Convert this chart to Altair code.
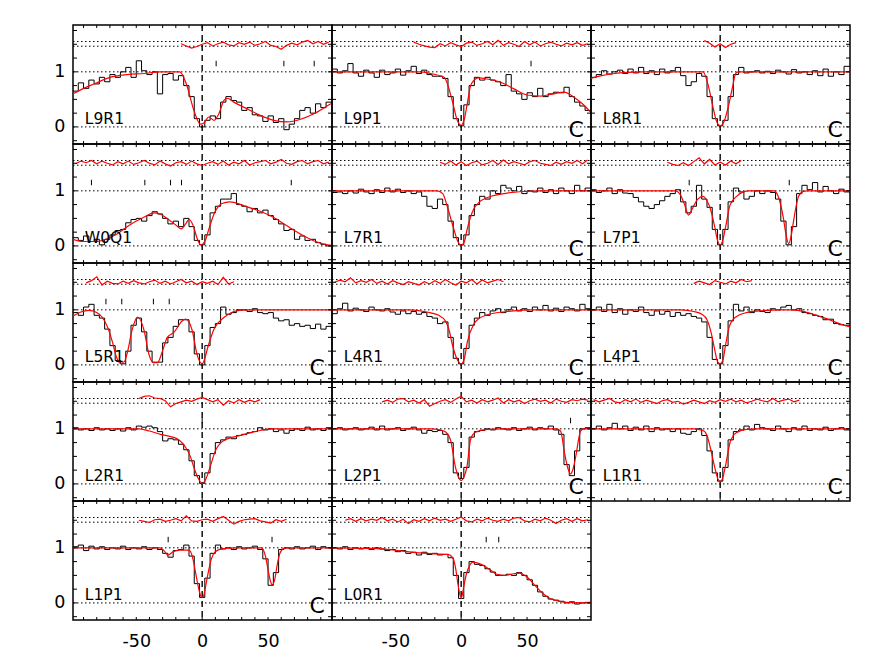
import altair as alt
import pandas as pd

# ---------------- data ----------------
BIN_CENTRES = list(range(-96, 97, 4))      # km/s, 49 spectral bins
BIN_WIDTH = 4
X_DOMAIN = [-98, 98.5]
Y_DOMAIN = [-0.31, 1.85]
REF_LEVELS = [0, 1, 1.465, 1.55]
X_FRAME_TICKS = list(range(-90, 91, 10))
Y_FRAME_TICKS = [-0.25, 0, 0.25, 0.5, 0.75, 1, 1.25, 1.5, 1.75]
X_LABELS = [-50, 0, 50]
Y_LABELS = [0, 1]
ID_TICK_LOW, ID_TICK_HIGH = 1.10, 1.20

# --- L9R1
L9R1_flux = [0.65, 0.80, 0.70, 0.85, 0.78, 0.90, 0.82,
             0.95, 0.90, 1.00, 1.08, 0.90, 1.20, 1.02,
             0.95, 1.00, 0.60, 0.95, 0.97, 0.85, 0.93,
             0.75, 0.55, 0.15, 0.00, 0.12, 0.20, 0.15,
             0.45, 0.55, 0.48, 0.45, 0.30, 0.35, 0.22,
             0.20, 0.10, 0.20, 0.08, 0.15, -0.05, 0.05,
             0.15, 0.30, 0.35, 0.25, 0.42, 0.35, 0.45]
L9R1_mv = [-98, -90, -82, -70, -57, -44, -32, -17, -12, -6.3, -1.3, 1.3, 5, 8.9, 12.7, 16.5, 19, 24, 34, 44, 54.4, 64.5, 74.7, 84.8, 97, 98.5]
L9R1_mf = [0.60, 0.70, 0.78, 0.90, 0.95, 0.97, 1.00, 1.00, 0.78, 0.30, 0.05, 0.07, 0.18, 0.12, 0.24, 0.48, 0.52, 0.45, 0.33, 0.21, 0.12, 0.09, 0.14, 0.24, 0.41, 0.43]
L9R1_res_start = -16
L9R1_res = [1.51, 1.47, 1.43, 1.46, 1.50, 1.53, 1.47, 1.51, 1.54, 1.49, 1.47, 1.53, 1.50, 1.54, 1.48,
            1.51, 1.55, 1.48, 1.46, 1.41, 1.48, 1.52, 1.49, 1.54, 1.57, 1.51, 1.55, 1.50, 1.54]
L9R1_ticks = [10.6, 62, 85]

# --- L9P1
L9P1_flux = [1.05, 0.98, 1.02, 1.15, 0.98, 0.92, 1.03,
             0.98, 0.90, 1.03, 0.95, 0.98, 1.05, 0.94,
             1.02, 1.10, 0.97, 1.03, 0.95, 0.92, 0.92,
             0.88, 0.55, 0.15, 0.02, 0.40, 0.75, 0.90,
             0.85, 0.90, 0.85, 0.82, 0.75, 0.95, 0.65,
             0.60, 0.50, 0.62, 0.55, 0.70, 0.55, 0.60,
             0.63, 0.62, 0.72, 0.55, 0.45, 0.38, 0.30]
L9P1_mv = [-98, -30, -25.8, -13, -6.8, -3, 0, 2.5, 4.6, 7.6, 13.4, 19.7, 30, 40, 50, 60, 70, 78, 85.6, 92, 98.5]
L9P1_mf = [1.00, 1.00, 0.98, 0.90, 0.48, 0.12, 0.03, 0.15, 0.42, 0.78, 0.89, 0.87, 0.81, 0.69, 0.58, 0.56, 0.60, 0.63, 0.54, 0.42, 0.26]
L9P1_res_start = -36
L9P1_res = [1.54, 1.50, 1.47, 1.45, 1.44, 1.51, 1.47, 1.53, 1.49, 1.46, 1.52, 1.54, 1.48, 1.51, 1.55, 1.49, 1.57,
            1.48, 1.53, 1.50, 1.46, 1.55, 1.49, 1.54, 1.47, 1.51, 1.54, 1.50, 1.47, 1.52, 1.49, 1.53, 1.48, 1.51]
L9P1_ticks = [53]

# --- L8R1
L8R1_flux = [0.90, 0.95, 1.02, 0.96, 1.00, 1.03, 0.97,
             1.05, 0.98, 1.08, 0.97, 1.02, 0.95, 1.05,
             0.98, 1.02, 1.08, 0.93, 0.75, 0.82, 0.97,
             0.92, 0.55, 0.15, 0.02, 0.12, 0.55, 0.95,
             1.08, 0.98, 1.00, 1.02, 0.98, 1.01, 0.97,
             1.03, 1.00, 0.96, 1.04, 0.98, 1.00, 0.95,
             1.02, 0.93, 1.05, 0.92, 1.00, 0.95, 1.10]
L8R1_mv = [-98, -90, -80, -70, -60, -13, -9, -6, -3, 0, 3, 6, 9, 12, 14, 98.5]
L8R1_mf = [0.88, 0.93, 0.97, 0.99, 1.00, 1.00, 0.75, 0.42, 0.12, 0.02, 0.10, 0.35, 0.68, 0.98, 1.00, 1.00]
L8R1_res_start = -12
L8R1_res = [1.57, 1.52, 1.45, 1.51, 1.44, 1.50, 1.53]
L8R1_ticks = []

# --- W0Q1
W0Q1_flux = [0.15, 0.10, 0.18, 0.08, 0.12, 0.02, 0.12,
             0.20, 0.28, 0.30, 0.42, 0.48, 0.50, 0.45,
             0.55, 0.62, 0.58, 0.50, 0.40, 0.45, 0.35,
             0.50, 0.35, 0.10, 0.02, 0.20, 0.60, 0.72,
             0.85, 0.85, 0.95, 0.75, 0.72, 0.62, 0.68,
             0.60, 0.65, 0.55, 0.48, 0.40, 0.28, 0.30,
             0.12, 0.18, 0.10, 0.12, 0.06, 0.03, 0.00]
W0Q1_mv = [-98, -90, -80, -72, -65, -55, -45, -36, -32, -28, -20, -16, -12, -10, -7, -4, -1, 2, 5, 9,
           15, 21, 34, 44, 54, 64, 75, 85, 95, 98.5]
W0Q1_mf = [0.12, 0.08, 0.08, 0.13, 0.21, 0.38, 0.51, 0.60, 0.58, 0.52, 0.38, 0.31, 0.42, 0.48, 0.38, 0.15, 0.02, 0.08, 0.30, 0.58,
           0.77, 0.80, 0.71, 0.63, 0.52, 0.37, 0.21, 0.09, 0.02, 0.01]
W0Q1_res_start = -96
W0Q1_res = [1.49, 1.54, 1.51, 1.55, 1.49, 1.54, 1.50,
            1.47, 1.53, 1.49, 1.54, 1.48, 1.51, 1.55,
            1.50, 1.47, 1.54, 1.49, 1.45, 1.51, 1.53,
            1.48, 1.54, 1.49, 1.46, 1.50, 1.53, 1.48,
            1.54, 1.47, 1.52, 1.49, 1.55, 1.47, 1.51,
            1.53, 1.55, 1.49, 1.52, 1.57, 1.50, 1.48,
            1.53, 1.55, 1.49, 1.53, 1.55, 1.49, 1.52]
W0Q1_ticks = [-84, -43.5, -24, -15.7, 67.6]

# --- L7R1
L7R1_flux = [0.97, 0.98, 0.95, 1.00, 0.96, 1.03, 0.98,
             0.95, 1.02, 0.97, 1.05, 0.98, 1.03, 0.97,
             1.00, 0.95, 0.98, 0.90, 0.72, 0.68, 0.85,
             0.75, 0.45, 0.15, 0.02, 0.20, 0.55, 0.75,
             0.90, 0.85, 1.00, 0.95, 1.10, 1.05, 1.00,
             1.08, 0.95, 1.00, 0.98, 1.05, 0.97, 1.02,
             0.95, 1.05, 1.00, 0.95, 1.10, 1.00, 1.05]
L7R1_mv = [-98, -18, -14, -10, -5.5, -2.5, 0, 2.5, 4.5, 9.5, 13.5, 20, 28, 35, 50, 60, 98.5]
L7R1_mf = [1.00, 1.00, 0.95, 0.67, 0.30, 0.08, 0.01, 0.08, 0.30, 0.67, 0.79, 0.88, 0.93, 0.96, 0.99, 1.00, 1.00]
L7R1_res_start = -16
L7R1_res = [1.52, 1.48, 1.54, 1.47, 1.53, 1.46, 1.51, 1.54, 1.47, 1.50, 1.55, 1.48, 1.56, 1.49, 1.53,
            1.50, 1.47, 1.53, 1.55, 1.50, 1.48, 1.46, 1.52, 1.48, 1.53, 1.50, 1.55, 1.49, 1.56]
L7R1_ticks = []

# --- L7P1
L7P1_flux = [1.02, 0.97, 1.00, 1.05, 0.95, 1.02, 0.96,
             0.95, 0.88, 0.80, 0.72, 0.68, 0.75, 0.82,
             0.90, 0.95, 1.02, 0.80, 0.60, 0.72, 1.10,
             0.85, 0.70, 0.30, 0.02, 0.30, 0.80, 1.05,
             0.98, 0.85, 0.90, 1.00, 0.95, 1.00, 0.97,
             0.85, 0.45, 0.02, 0.35, 0.95, 1.10, 1.02,
             1.15, 0.98, 1.08, 1.00, 0.95, 1.03, 0.98]
L7P1_mv = [-98, -34, -30, -27, -24, -21, -17, -13, -10, -7.5, -4, -2, 0, 2, 4, 7.5, 12.5, 17.5, 22, 41,
           44, 48, 50, 52, 54, 56, 59.5, 63, 66, 98.5]
L7P1_mf = [1.00, 1.00, 0.92, 0.75, 0.56, 0.68, 0.85, 0.90, 0.82, 0.68, 0.33, 0.10, 0.02, 0.10, 0.33, 0.74, 0.90, 0.98, 1.00, 1.00,
           0.90, 0.50, 0.20, 0.04, 0.20, 0.50, 0.90, 0.99, 1.00, 1.00]
L7P1_res_start = -40
L7P1_res = [1.52, 1.48, 1.46, 1.51, 1.46, 1.53, 1.60, 1.49, 1.57, 1.47, 1.52, 1.47, 1.54, 1.49, 1.55]
L7P1_ticks = [-23.5, 52.4]

# --- L5R1
L5R1_flux = [0.95, 0.90, 1.05, 1.10, 0.90, 0.85, 0.65,
             0.35, 0.08, 0.02, 0.25, 0.72, 0.85, 0.60,
             0.25, 0.05, 0.05, 0.40, 0.50, 0.70, 0.82,
             0.82, 0.60, 0.20, 0.00, 0.35, 0.68, 0.75,
             1.05, 0.92, 0.95, 1.00, 1.00, 0.97, 1.02,
             0.95, 0.93, 0.95, 0.85, 0.80, 0.82, 0.72,
             0.75, 0.70, 0.72, 0.66, 0.74, 0.65, 0.70]
L5R1_mv = [-98, -92, -86, -80, -76, -72, -68, -65, -62, -59, -57, -53, -49, -44, -40.5, -37, -34, -30, -26.5, -21.5,
           -15, -12.5, -7.5, -4, 0, 5, 9, 16.5, 24, 32, 98.5]
L5R1_mf = [0.89, 0.96, 0.99, 0.95, 0.87, 0.70, 0.41, 0.14, 0.03, 0.06, 0.20, 0.65, 0.87, 0.62, 0.20, 0.04, 0.04, 0.26, 0.50, 0.59,
           0.80, 0.83, 0.62, 0.20, 0.02, 0.38, 0.65, 0.86, 0.97, 1.00, 1.00]
L5R1_res_start = -88
L5R1_res = [1.49, 1.53, 1.60, 1.45, 1.52, 1.48, 1.47, 1.52, 1.48, 1.53, 1.49, 1.47, 1.51, 1.54, 1.48,
            1.52, 1.47, 1.51, 1.55, 1.49, 1.52, 1.46, 1.51, 1.48, 1.52, 1.46, 1.59, 1.47, 1.51]
L5R1_ticks = [-73, -61, -37, -25]

# --- L4R1
L4R1_flux = [0.93, 1.02, 1.12, 0.98, 1.03, 1.00, 0.97,
             1.05, 1.00, 0.98, 1.02, 0.96, 0.92, 0.98,
             0.93, 0.97, 0.92, 0.95, 0.88, 0.85, 0.75,
             0.78, 0.50, 0.12, 0.02, 0.30, 0.72, 0.85,
             0.95, 0.90, 0.98, 1.02, 0.95, 1.00, 1.05,
             0.98, 1.02, 0.97, 1.05, 1.00, 1.08, 0.98,
             1.03, 0.97, 1.05, 1.02, 0.98, 1.10, 1.02]
L4R1_mv = [-98, -40, -26, -17, -12, -9, -6.8, -3, 0, 2.5, 4.6, 9.6, 13.4, 19.7, 35, 50, 98.5]
L4R1_mf = [1.00, 1.00, 0.96, 0.90, 0.80, 0.62, 0.38, 0.10, 0.02, 0.12, 0.41, 0.74, 0.84, 0.91, 0.97, 1.00, 1.00]
L4R1_res_start = -96
L4R1_res = [1.50, 1.54, 1.51, 1.58, 1.49, 1.53, 1.50, 1.55, 1.48, 1.52, 1.47, 1.53, 1.49, 1.46, 1.51, 1.48, 1.45,
            1.51, 1.47, 1.53, 1.48, 1.55, 1.49, 1.45, 1.52, 1.49, 1.55, 1.47, 1.54, 1.49, 1.52, 1.55, 1.51]
L4R1_ticks = []

# --- L4P1
L4P1_flux = [1.00, 1.05, 0.97, 1.10, 0.95, 1.02, 0.92,
             1.00, 0.97, 1.05, 0.95, 0.90, 0.98, 0.92,
             0.97, 0.88, 0.95, 0.90, 0.93, 0.88, 0.85,
             0.78, 0.50, 0.10, 0.02, 0.35, 0.80, 1.10,
             0.98, 1.05, 0.95, 1.00, 0.97, 0.95, 1.02,
             1.00, 1.05, 1.08, 1.00, 1.02, 0.95, 0.93,
             0.90, 0.88, 0.82, 0.83, 0.75, 0.73, 0.72]
L4P1_mv = [-98, -30, -20, -14, -10, -7, -4, -2, 0, 2, 4, 7, 10, 14, 20, 30, 45, 55, 65, 72, 78, 85, 93.7, 98.5]
L4P1_mf = [1.00, 1.00, 0.97, 0.92, 0.82, 0.60, 0.26, 0.06, 0.02, 0.08, 0.35, 0.70, 0.83, 0.90, 0.95, 0.98, 1.00, 1.00, 0.96, 0.91,
           0.86, 0.80, 0.72, 0.69]
L4P1_res_start = -20
L4P1_res = [1.48, 1.52, 1.49, 1.46, 1.53, 1.50, 1.47, 1.52, 1.49, 1.55, 1.51, 1.53]
L4P1_ticks = []

# --- L2R1
L2R1_flux = [1.02, 0.98, 1.00, 0.97, 1.02, 0.98, 1.00,
             0.97, 1.00, 0.96, 1.02, 0.98, 1.05, 1.03,
             1.05, 1.02, 0.95, 0.78, 0.82, 0.80, 0.72,
             0.62, 0.42, 0.15, 0.01, 0.20, 0.55, 0.75,
             0.80, 0.85, 0.82, 0.88, 0.90, 0.93, 0.95,
             1.02, 0.98, 1.00, 0.95, 0.98, 0.92, 0.97,
             1.00, 0.97, 1.03, 0.98, 1.00, 0.97, 1.02]
L2R1_mv = [-98, -48, -40, -31.6, -19, -12.7, -9, -6.3, -3, 0, 3, 6.3, 10, 16.5, 29, 44, 52, 98.5]
L2R1_mf = [1.00, 1.00, 0.96, 0.90, 0.82, 0.67, 0.50, 0.30, 0.10, 0.01, 0.10, 0.33, 0.60, 0.79, 0.88, 0.97, 1.00, 1.00]
L2R1_res_start = -48
L2R1_res = [1.55, 1.59, 1.60, 1.56, 1.55, 1.51, 1.40, 1.46, 1.49, 1.52, 1.50, 1.54,
            1.57, 1.53, 1.49, 1.53, 1.43, 1.51, 1.47, 1.53, 1.48, 1.52, 1.49, 1.53]
L2R1_ticks = [0]

# --- L2P1
L2P1_flux = [1.00, 1.02, 0.98, 1.00, 1.02, 0.98, 1.00,
             1.03, 0.98, 1.05, 0.98, 1.00, 1.02, 0.97,
             1.00, 1.03, 0.98, 0.92, 0.97, 0.95, 0.97,
             0.90, 0.75, 0.20, 0.10, 0.30, 0.85, 0.95,
             0.97, 1.00, 0.98, 1.02, 1.00, 0.98, 1.02,
             0.97, 1.00, 1.03, 0.98, 1.02, 1.00, 1.05,
             0.98, 0.90, 0.35, 0.15, 0.60, 1.00, 1.02]
L2P1_mv = [-98, -22, -14, -10, -8, -4.3, -2, 0, 2, 4.3, 7, 9, 12, 20, 30, 72, 75.4, 78.5, 81, 83, 85, 86.8, 90.6, 93, 98.5]
L2P1_mf = [1.00, 1.00, 0.97, 0.90, 0.79, 0.30, 0.12, 0.06, 0.12, 0.30, 0.79, 0.90, 0.95, 0.99, 1.00, 1.00, 0.96, 0.55, 0.28, 0.18,
           0.28, 0.48, 0.96, 1.00, 1.00]
L2P1_res_start = -60
L2P1_res = [1.49, 1.52, 1.48, 1.54, 1.55, 1.49, 1.52, 1.47, 1.53, 1.41, 1.46, 1.50, 1.53, 1.48, 1.54, 1.59, 1.49, 1.52, 1.47, 1.53,
            1.49, 1.52, 1.56, 1.47, 1.53, 1.49, 1.52, 1.46, 1.51, 1.54, 1.50, 1.52, 1.47, 1.54, 1.50, 1.48, 1.53, 1.51, 1.54, 1.52]
L2P1_ticks = [83]

# --- L1R1
L1R1_flux = [1.00, 1.05, 0.98, 1.02, 1.10, 1.00, 1.05,
             0.97, 1.03, 0.98, 1.05, 0.95, 1.02, 0.98,
             1.00, 0.95, 1.00, 0.92, 0.90, 0.95, 1.00,
             0.88, 0.60, 0.20, 0.05, 0.30, 0.80, 0.95,
             0.98, 1.05, 0.98, 1.08, 1.02, 1.00, 0.97,
             1.05, 1.00, 0.95, 1.02, 0.98, 1.05, 0.97,
             1.00, 0.98, 1.03, 0.97, 1.00, 1.02, 0.98]
L1R1_mv = [-98, -20, -13, -10, -7.6, -3.8, -1.5, 0, 1.5, 3.8, 7.6, 10, 13, 20, 28, 98.5]
L1R1_mf = [1.00, 1.00, 0.97, 0.88, 0.67, 0.27, 0.08, 0.05, 0.08, 0.30, 0.76, 0.88, 0.94, 0.99, 1.00, 1.00]
L1R1_res_start = -96
L1R1_res = [1.53, 1.49, 1.52, 1.55, 1.49, 1.47, 1.53, 1.49, 1.54, 1.48, 1.52, 1.49, 1.46, 1.51, 1.53, 1.48, 1.50, 1.45, 1.48, 1.52,
            1.49, 1.46, 1.51, 1.48, 1.53, 1.50, 1.54, 1.49, 1.52, 1.47, 1.50, 1.54, 1.51, 1.49, 1.55, 1.49, 1.52, 1.54, 1.49, 1.52]
L1R1_ticks = []

# --- L1P1
L1P1_flux = [1.02, 1.05, 0.95, 1.03, 0.98, 1.02, 0.97,
             1.00, 0.98, 1.03, 0.97, 1.00, 0.98, 1.02,
             0.97, 1.00, 0.97, 0.90, 0.83, 0.95, 0.97,
             1.05, 0.85, 0.35, 0.10, 0.45, 0.90, 1.05,
             0.98, 1.00, 0.97, 1.02, 0.98, 1.00, 1.03,
             0.97, 0.80, 0.32, 0.55, 0.97, 1.00, 0.98,
             1.02, 0.98, 1.00, 1.03, 0.97, 1.02, 1.00]
L1P1_mv = [-98, -32, -29, -26, -22, -18, -10, -7, -5, -3, -1, 0, 1, 3, 5, 7, 10, 15, 25, 45,
           48, 50, 52, 53, 55, 57, 59, 62, 65, 98.5]
L1P1_mf = [1.00, 1.00, 0.95, 0.87, 0.93, 0.96, 0.96, 0.80, 0.55, 0.30, 0.12, 0.10, 0.12, 0.35, 0.60, 0.80, 0.93, 0.98, 1.00, 1.00,
           0.85, 0.60, 0.38, 0.33, 0.42, 0.70, 0.90, 0.99, 1.00, 1.00]
L1P1_res_start = -48
L1P1_res = [1.50, 1.48, 1.46, 1.51, 1.52, 1.48, 1.50, 1.53, 1.49, 1.58, 1.49, 1.48, 1.51, 1.52, 1.48,
            1.53, 1.57, 1.50, 1.43, 1.48, 1.51, 1.52, 1.53, 1.49, 1.47, 1.45, 1.51, 1.48, 1.52]
L1P1_ticks = [-25.8, 53]

# --- L0R1
L0R1_flux = [1.00, 0.98, 1.02, 0.97, 1.00, 0.98, 1.00,
             0.97, 1.00, 0.98, 0.95, 0.97, 0.93, 0.95,
             0.90, 0.92, 0.87, 0.92, 0.88, 0.90, 0.87,
             0.88, 0.82, 0.50, 0.08, 0.55, 0.75, 0.70,
             0.68, 0.62, 0.56, 0.50, 0.50, 0.52, 0.50,
             0.55, 0.50, 0.42, 0.32, 0.20, 0.12, 0.07,
             0.05, 0.03, 0.00, 0.02, -0.02, 0.00, 0.01]
L0R1_mv = [-98, -70, -60, -48, -32, -20, -10, -6, -4, -2.5, 0, 2, 4, 6, 9, 16, 22, 27, 33, 40,
           44, 50, 57, 62, 66, 71, 80, 98.5]
L0R1_mf = [1.00, 0.99, 0.98, 0.95, 0.91, 0.89, 0.88, 0.80, 0.60, 0.35, 0.08, 0.30, 0.53, 0.66, 0.74, 0.69, 0.60, 0.52, 0.50, 0.53,
           0.54, 0.47, 0.29, 0.17, 0.10, 0.05, 0.01, 0.00]
L0R1_res_start = -88
L0R1_res = [1.50, 1.53, 1.48, 1.53, 1.49, 1.52, 1.50, 1.55, 1.49, 1.52, 1.47, 1.52, 1.44, 1.51, 1.48, 1.53,
            1.49, 1.54, 1.50, 1.52, 1.48, 1.52, 1.56, 1.49, 1.47, 1.52, 1.49, 1.54, 1.50, 1.48, 1.52, 1.49,
            1.54, 1.55, 1.49, 1.47, 1.52, 1.49, 1.54, 1.50, 1.44, 1.50, 1.53, 1.48, 1.53, 1.49, 1.51]
L0R1_ticks = [19, 28.5]

PANEL_NAMES = ["L9R1", "L9P1", "L8R1",
               "W0Q1", "L7R1", "L7P1",
               "L5R1", "L4R1", "L4P1",
               "L2R1", "L2P1", "L1R1",
               "L1P1", "L0R1"]
PANELS_WITH_C = ["L9P1", "L8R1", "L7R1", "L7P1", "L5R1", "L4R1", "L4P1", "L2P1", "L1R1", "L1P1"]
BOTTOM_LABELLED = ["L1P1", "L0R1"]

NAME_POS = (-89, 0.06)
C_POS = (81.5, -0.18)

# ---------------- layout / style ----------------
W, H = 259, 119
FONT = "DejaVu Sans"
RED = "#ff0000"
AXIS_FS = 17.5

g = globals()


def panel(name, left, bottom):
    flux = g[name + "_flux"]
    mv, mf = g[name + "_mv"], g[name + "_mf"]
    rstart, res = g[name + "_res_start"], g[name + "_res"]
    ticks = g[name + "_ticks"]

    xs = alt.Scale(domain=X_DOMAIN, nice=False, zero=False)
    ys = alt.Scale(domain=Y_DOMAIN, nice=False, zero=False)
    if bottom:
        xaxis = alt.Axis(values=X_LABELS, ticks=False, domain=False, grid=False, title=None,
                         labelPadding=12, labelFontSize=AXIS_FS, labelFont=FONT, labelColor="black",
                         labelExpr="datum.value < 0 ? '-' + (-datum.value) : '' + datum.value")
    else:
        xaxis = None
    if left:
        yaxis = alt.Axis(values=Y_LABELS, ticks=False, domain=False, grid=False, title=None,
                         labelPadding=8, labelFontSize=AXIS_FS, labelFont=FONT, labelColor="black")
    else:
        yaxis = None

    def X(f):
        return alt.X(f, type="quantitative", scale=xs, axis=xaxis)

    def Y(f):
        return alt.Y(f, type="quantitative", scale=ys, axis=yaxis)

    # tables built from the arrays
    edges = [c - BIN_WIDTH / 2 for c in BIN_CENTRES] + [X_DOMAIN[1]]
    spec_df = pd.DataFrame({"v": edges, "f": list(flux) + [flux[-1]]})
    model_df = pd.DataFrame({"v": mv, "f": mf})
    res_df = pd.DataFrame({"v": [rstart + BIN_WIDTH * i for i in range(len(res))], "f": res})
    ref_df = pd.DataFrame({"f": REF_LEVELS})
    zero_df = pd.DataFrame({"v": [0]})
    xt_df = pd.DataFrame({"v": X_FRAME_TICKS})
    yt_df = pd.DataFrame({"f": Y_FRAME_TICKS})

    layers = []
    layers.append(alt.Chart(ref_df).mark_rule(color="black", strokeWidth=1, strokeDash=[1.5, 2.5])
                  .encode(y=Y("f"), x=alt.value(0), x2=alt.value(W)))
    layers.append(alt.Chart(zero_df).mark_rule(color="black", strokeWidth=1.4, strokeDash=[6, 4])
                  .encode(x=X("v"), y=alt.value(0), y2=alt.value(H)))
    layers.append(alt.Chart(spec_df).mark_line(color="black", strokeWidth=1, interpolate="step-after", clip=True)
                  .encode(x=X("v"), y=Y("f")))
    layers.append(alt.Chart(model_df).mark_line(color=RED, strokeWidth=1.2, interpolate="monotone", clip=True)
                  .encode(x=X("v"), y=Y("f")))
    layers.append(alt.Chart(res_df).mark_line(color=RED, strokeWidth=1.2, clip=True)
                  .encode(x=X("v"), y=Y("f")))
    if ticks:
        tk_df = pd.DataFrame({"v": ticks, "lo": [ID_TICK_LOW] * len(ticks), "hi": [ID_TICK_HIGH] * len(ticks)})
        layers.append(alt.Chart(tk_df).mark_rule(color="black", strokeWidth=1)
                      .encode(x=X("v"), y=Y("lo"), y2="hi"))
    name_df = pd.DataFrame({"v": [NAME_POS[0]], "f": [NAME_POS[1]], "t": [name]})
    layers.append(alt.Chart(name_df).mark_text(align="left", baseline="alphabetic", fontSize=15.5,
                                               font=FONT, color="black")
                  .encode(x=X("v"), y=Y("f"), text="t:N"))
    if name in PANELS_WITH_C:
        c_df = pd.DataFrame({"v": [C_POS[0]], "f": [C_POS[1]], "t": ["C"]})
        layers.append(alt.Chart(c_df).mark_text(align="left", baseline="alphabetic", fontSize=22,
                                                font=FONT, color="black")
                      .encode(x=X("v"), y=Y("f"), text="t:N"))
    # inward frame ticks
    layers.append(alt.Chart(xt_df).mark_rule(color="black", strokeWidth=1)
                  .encode(x=X("v"), y=alt.value(0), y2=alt.value(3)))
    layers.append(alt.Chart(xt_df).mark_rule(color="black", strokeWidth=1)
                  .encode(x=X("v"), y=alt.value(H - 3), y2=alt.value(H)))
    layers.append(alt.Chart(yt_df).mark_rule(color="black", strokeWidth=1)
                  .encode(y=Y("f"), x=alt.value(0), x2=alt.value(4)))
    layers.append(alt.Chart(yt_df).mark_rule(color="black", strokeWidth=1)
                  .encode(y=Y("f"), x=alt.value(W - 4), x2=alt.value(W)))
    return alt.layer(*layers).properties(width=W, height=H)


panels = [panel(n, left=(i % 3 == 0), bottom=(n in BOTTOM_LABELLED)) for i, n in enumerate(PANEL_NAMES)]

chart = (alt.concat(*panels, columns=3, spacing=0, bounds="flush")
         .properties(padding={"left": 45, "top": 15, "right": 10, "bottom": 5}, background="white")
         .configure_view(stroke="black", strokeWidth=1.5)
         .configure_axis(grid=False, labelOverlap=False))

chart.save("out.html", embed_options={"renderer": "svg", "actions": False})
